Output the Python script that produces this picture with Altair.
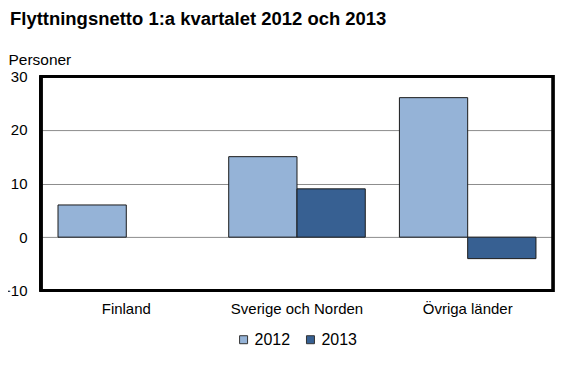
import altair as alt
import pandas as pd

categories = ["Finland", "Sverige och Norden", "Övriga länder"]
years = ["2012", "2013"]
values_2012 = [6, 15, 26]
values_2013 = [0, 9, -4]

rows = []
for c, v in zip(categories, values_2012):
    rows.append({"Område": c, "År": "2012", "Personer": v})
for c, v in zip(categories, values_2013):
    rows.append({"Område": c, "År": "2013", "Personer": v})
df = pd.DataFrame(rows)

FONT = "Liberation Sans"
W, H = 513, 215

bars = alt.Chart(df).transform_filter(
    "datum.Personer != 0"
).mark_bar(stroke="#1a1a1a", strokeWidth=1).encode(
    x=alt.X("Område:N", sort=categories,
            scale=alt.Scale(domain=categories, paddingInner=0.2, paddingOuter=0.1),
            axis=alt.Axis(title=None, labelAngle=0, ticks=False, domain=False,
                          labelFont=FONT, labelFontSize=15, labelColor="#000000",
                          labelPadding=11, zindex=0)),
    xOffset=alt.XOffset("År:N", sort=years,
                        scale=alt.Scale(domain=years, paddingInner=0, paddingOuter=0)),
    y=alt.Y("Personer:Q",
            scale=alt.Scale(domain=[-10, 30], nice=False, zero=False),
            axis=alt.Axis(values=[-10, 0, 10, 20, 30], title="Personer", titleAngle=0,
                          titleX=-33, titleY=-12, titleAlign="left", titleBaseline="alphabetic",
                          titleFont=FONT, titleFontSize=15.5, titleFontWeight="normal",
                          titleColor="#000000",
                          ticks=False, domain=False, grid=True, gridColor="#8c8c8c",
                          gridWidth=1, zindex=0,
                          labelFont=FONT, labelFontSize=15, labelColor="#000000",
                          labelPadding=14)),
    color=alt.Color("År:N", sort=years,
                    scale=alt.Scale(domain=years, range=["#95B3D7", "#376092"]),
                    legend=alt.Legend(title=None, orient="none", direction="horizontal",
                                      legendX=195, legendY=256,
                                      symbolType="square", symbolSize=64,
                                      symbolStrokeColor="#333333", symbolStrokeWidth=1,
                                      labelFont=FONT, labelFontSize=16, labelColor="#000000",
                                      columnPadding=12, labelOffset=3)),
)

frame = alt.Chart(df).mark_rect(fill=None, stroke="#000000", strokeWidth=2.5).encode(
    x=alt.value(0), x2=alt.value(W), y=alt.value(0), y2=alt.value(H)
)
left_edge = alt.Chart(df).mark_rule(color="#000000", strokeWidth=2.5).encode(
    x=alt.value(0), y=alt.value(0), y2=alt.value(H)
)
bottom_edge = alt.Chart(df).mark_rule(color="#000000", strokeWidth=2.5).encode(
    x=alt.value(0), x2=alt.value(W), y=alt.value(H)
)

chart = alt.layer(bars, frame, left_edge, bottom_edge).properties(
    width=W,
    height=H,
    background="white",
    autosize=alt.AutoSizeParams(type="none"),
    padding={"left": 33, "top": 68, "right": 20, "bottom": 60},
    title=alt.TitleParams("Flyttningsnetto 1:a kvartalet 2012 och 2013",
                          anchor="start", frame="group", dx=-31,
                          font=FONT, fontSize=18.5, fontWeight="bold", color="#000000",
                          offset=24),
).configure_view(
    stroke=None
)

chart.save("out.html", embed_options={"renderer": "svg", "actions": False})
